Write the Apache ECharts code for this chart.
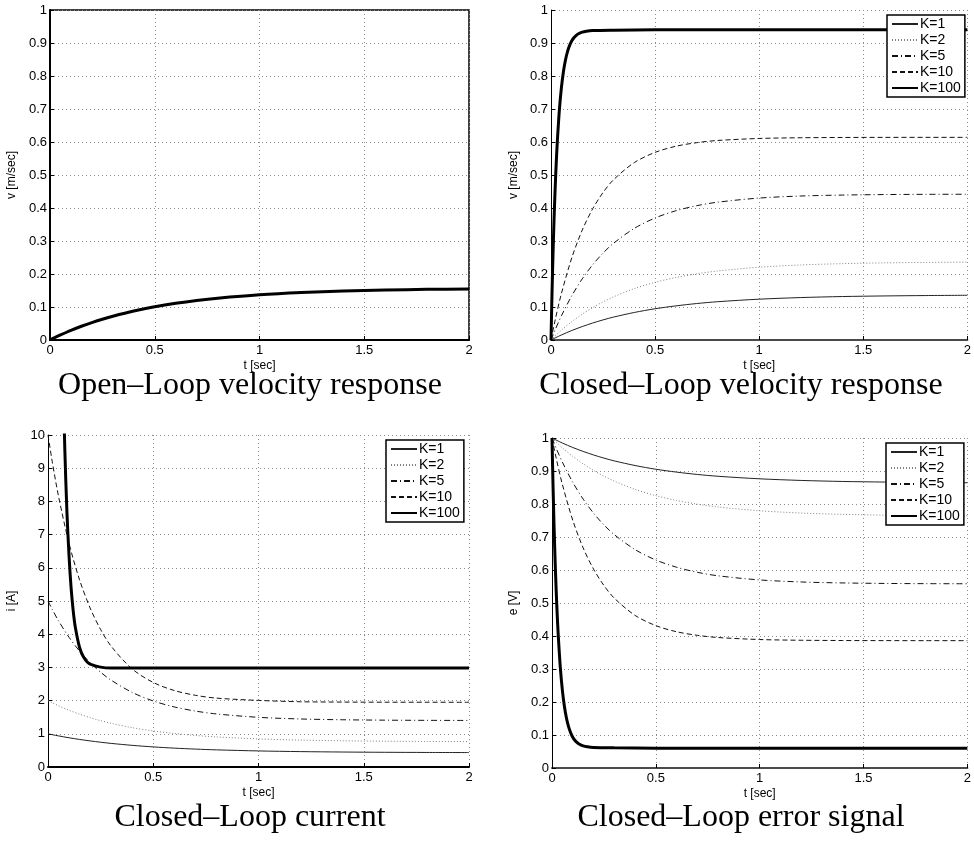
<!DOCTYPE html>
<html><head><meta charset="utf-8">
<script src="https://cdn.jsdelivr.net/npm/echarts@6/dist/echarts.min.js"></script>
<style>html,body{margin:0;background:#fff}#c{width:974px;height:850px}</style>
</head><body><div id="c"></div>
<script>
// time samples (sec)
const tSlow = [0,0.02,0.05,0.1,0.15,0.2,0.25,0.3,0.4,0.5,0.6,0.7,0.8,1.0,1.2,1.4,1.6,1.8,2.0];
const tFast = [0,0.005,0.01,0.015,0.02,0.025,0.03,0.04,0.05,0.06,0.07,0.08,0.09,0.1,0.11,0.12,0.13,0.15,0.17,0.2,0.3,0.5,1.0,1.5,2.0];
const kNames = ['K=1','K=2','K=5','K=10','K=100'];

// Open-loop velocity [m/sec]
const vOpen = [0,0.0063,0.0152,0.0291,0.0416,0.0527,0.0629,0.0721,0.0879,0.1007,0.1112,0.1198,0.1267,0.1371,0.1439,0.1484,0.1515,0.1535,0.1548];

// Closed-loop velocity [m/sec]
const vK1  = [0,0.0063,0.0152,0.0288,0.0407,0.0514,0.0609,0.0694,0.0834,0.0947,0.1034,0.1105,0.1160,0.1237,0.1286,0.1317,0.1335,0.1347,0.1355];
const vK2  = [0,0.0123,0.0297,0.0556,0.0783,0.0982,0.1155,0.1307,0.1557,0.1748,0.1893,0.2005,0.2091,0.2206,0.2274,0.2314,0.2337,0.2351,0.2359];
const vK5  = [0,0.0309,0.0732,0.1343,0.1853,0.2279,0.2634,0.2929,0.3382,0.3698,0.3917,0.4070,0.4176,0.4301,0.4363,0.4392,0.4407,0.4414,0.4417];
const vK10 = [0,0.0607,0.1408,0.2493,0.3330,0.3973,0.4470,0.4854,0.5376,0.5686,0.5871,0.5980,0.6046,0.6107,0.6129,0.6137,0.6140,0.6141,0.6141];
const vK100 = [0,0.1455,0.2685,0.3723,0.4601,0.5343,0.5970,0.6948,0.7646,0.8145,0.8501,0.8755,0.8936,0.9066,0.9159,0.9225,0.9272,0.9330,0.9359,0.9379,0.939,0.94,0.94,0.94,0.94];

// Closed-loop current [A]
const iK1  = [1,0.9737,0.9366,0.8802,0.8301,0.7857,0.7461,0.7110,0.6519,0.6053,0.5685,0.5394,0.5164,0.4839,0.4636,0.4510,0.4431,0.4381,0.4349];
const iK2  = [2,1.9354,1.8449,1.7091,1.5903,1.4864,1.3955,1.3160,1.1856,1.0856,1.0094,0.9508,0.9059,0.8456,0.8101,0.7894,0.7772,0.7700,0.7660];
const iK5  = [5,4.7484,4.4035,3.9060,3.4905,3.1442,2.8551,2.6143,2.2453,1.9882,1.8093,1.6851,1.5984,1.4961,1.4464,1.4227,1.4108,1.4054,1.4025];
const iK10 = [10,9.2039,8.1541,6.7325,5.6353,4.7908,4.1396,3.6373,2.9522,2.5457,2.3034,2.1601,2.0748,2.0057,1.9653,1.9556,1.9516,1.9508,1.95];
const iK100 = [100,84.96,72.26,61.53,52.46,44.80,38.31,28.22,20.99,15.85,12.17,9.54,7.67,6.35,5.37,4.69,4.20,3.60,3.30,3.10,2.98,2.98,2.98,2.98,2.98];

// Closed-loop error signal [V]
const eK1  = [1,0.9937,0.9848,0.9712,0.9593,0.9486,0.9391,0.9306,0.9166,0.9053,0.8966,0.8895,0.8840,0.8763,0.8714,0.8683,0.8665,0.8653,0.8645];
const eK2  = [1,0.9877,0.9703,0.9444,0.9217,0.9018,0.8845,0.8693,0.8443,0.8252,0.8107,0.7995,0.7909,0.7794,0.7726,0.7686,0.7663,0.7649,0.7641];
const eK5  = [1,0.9691,0.9268,0.8657,0.8147,0.7721,0.7366,0.7071,0.6618,0.6302,0.6083,0.5930,0.5824,0.5699,0.5637,0.5608,0.5593,0.5586,0.5583];
const eK10 = [1,0.9393,0.8592,0.7507,0.6670,0.6027,0.5530,0.5146,0.4624,0.4314,0.4129,0.4020,0.3954,0.3893,0.3871,0.3863,0.3860,0.3859,0.3859];
const eK100 = [1,0.8545,0.7315,0.6277,0.5399,0.4657,0.4030,0.3052,0.2354,0.1855,0.1499,0.1245,0.1064,0.0934,0.0841,0.0775,0.0728,0.0670,0.0641,0.0621,0.061,0.06,0.06,0.06,0.06];

const captions = ['Open–Loop velocity response','Closed–Loop velocity response','Closed–Loop current','Closed–Loop error signal'];
const yNames = ['v [m/sec]','v [m/sec]','i [A]','e [V]'];

const lineStyles = {
  'open':  {color:'#000', width:3, type:'solid'},
  'K=1':   {color:'#222', width:1, type:'solid'},
  'K=2':   {color:'#808080', width:1, type:[1,2]},
  'K=5':   {color:'#111', width:1, type:[6,3,1,3]},
  'K=10':  {color:'#111', width:1, type:[5,3]},
  'K=100': {color:'#000', width:3, type:'solid'}
};

function pts(t, y){ return t.map((x,i)=>[x,y[i]]); }
function ser(name, idx, t, y){
  return {type:'line', name:name, xAxisIndex:idx, yAxisIndex:idx, data:pts(t,y),
    showSymbol:false, symbol:'none', smooth:0.3, clip:true,
    lineStyle:Object.assign({}, lineStyles[name]), itemStyle:{color:lineStyles[name].color},
    emphasis:{disabled:true}};
}

const grids = [
  {left:50, top:10, width:419, height:330, show:true, borderColor:'#000', borderWidth:1.5, backgroundColor:'transparent'},
  {left:551, top:10, width:418, height:330},
  {left:48, top:435, width:421, height:332},
  {left:552, top:438, width:417, height:330}
];
const yNameGap = [32, 31, 30, 32];
const font = 'Liberation Sans';
const splitStyle = {color:'#8a8a8a', width:1, type:[1,3]};

const xAxes = grids.map((g,i)=>({
  type:'value', gridIndex:i, min:0, max:2, interval:0.5,
  name:'t [sec]', nameLocation:'middle', nameGap:20,
  nameTextStyle:{fontFamily:font, fontSize:12, color:'#000'},
  axisLine:{show:true, onZero:false, lineStyle:{color: (i===1||i===3) ? '#4a4a4a' : '#000', width:2}},
  axisTick:{show:true, inside:true, length:4, lineStyle:{color:'#000'}},
  axisLabel:{fontFamily:font, fontSize:13, color:'#000', margin:4, formatter:v=>String(v)},
  splitLine:{show:true, lineStyle:splitStyle}
}));
const yAxes = grids.map((g,i)=>({
  type:'value', gridIndex:i, min:0, max: i===2 ? 10 : 1, interval: i===2 ? 1 : 0.1,
  name:yNames[i], nameLocation:'middle', nameGap:yNameGap[i], nameRotate:90,
  nameTextStyle:{fontFamily:font, fontSize:12, color:'#000'},
  axisLine:{show:true, onZero:false, lineStyle:{color:'#000', width: i===0 ? 2 : 1}},
  axisTick:{show:true, inside:true, length:4, lineStyle:{color:'#000'}},
  axisLabel:{fontFamily:font, fontSize:13, color:'#000', margin:3,
    formatter:v=>String(Math.round(v*10)/10)},
  splitLine:{show:true, lineStyle:splitStyle}
}));

const series = [
  Object.assign(ser('open',0,tSlow,vOpen), {name:'Open-loop'}),
  ser('K=1',1,tSlow,vK1), ser('K=2',1,tSlow,vK2), ser('K=5',1,tSlow,vK5), ser('K=10',1,tSlow,vK10), ser('K=100',1,tFast,vK100),
  ser('K=1',2,tSlow,iK1), ser('K=2',2,tSlow,iK2), ser('K=5',2,tSlow,iK5), ser('K=10',2,tSlow,iK10), ser('K=100',2,tFast,iK100),
  ser('K=1',3,tSlow,eK1), ser('K=2',3,tSlow,eK2), ser('K=5',3,tSlow,eK5), ser('K=10',3,tSlow,eK10), ser('K=100',3,tFast,eK100)
];

function legendAt(pos){
  return Object.assign({
    data:kNames, orient:'vertical', selectedMode:false,
    backgroundColor:'#fff', borderColor:'#000', borderWidth:1.5,
    padding:[2,4,2,4], itemGap:2, itemWidth:26, itemHeight:12,
    itemStyle:{opacity:0, borderWidth:0},
    textStyle:{fontFamily:font, fontSize:14, color:'#000', padding:[0,0,0,-3]},
    z:10
  }, pos);
}

const captionPos = [[250,386],[741,386],[250,818],[741,818]];
const graphics = captions.map((c,i)=>({
  type:'text', x:captionPos[i][0], y:captionPos[i][1], z:10,
  style:{text:c, font:'32px "Liberation Serif"', fill:'#000', align:'center', verticalAlign:'middle',
         textAlign:'center', textVerticalAlign:'middle'}
}));

const chart = echarts.init(document.getElementById('c'), null, {renderer:'canvas'});
chart.setOption({
  animation:false,
  backgroundColor:'#fff',
  grid:grids, xAxis:xAxes, yAxis:yAxes, series:series,
  legend:[legendAt({left:887, top:15}), legendAt({left:386, top:440}), legendAt({left:886, top:443})],
  graphic:graphics
});
</script></body></html>
